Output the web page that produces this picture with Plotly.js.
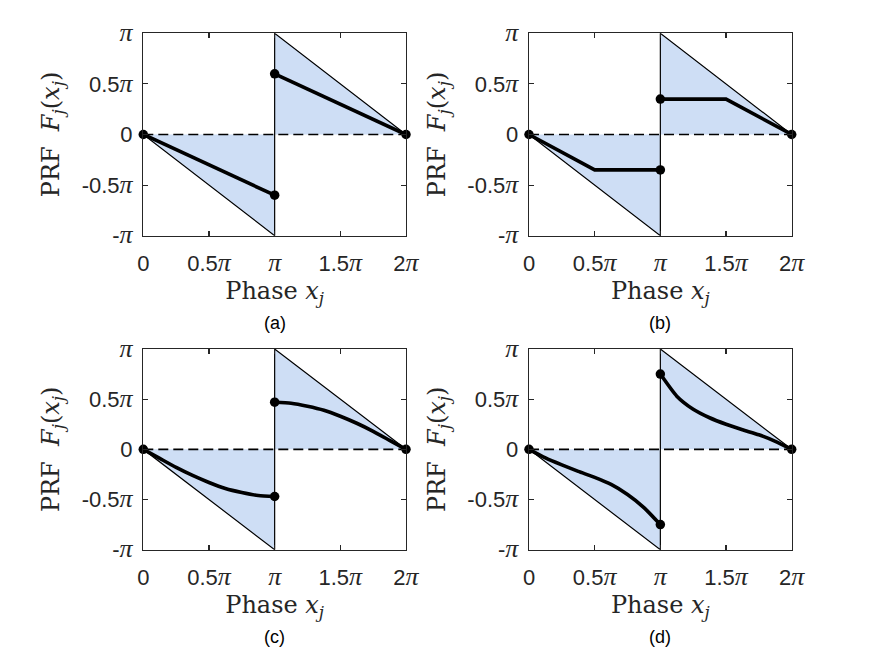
<!DOCTYPE html>
<html>
<head>
<meta charset="utf-8">
<script src="https://cdn.plot.ly/plotly-3.0.1.min.js"></script>
<style>
  html, body { margin: 0; padding: 0; background: #ffffff; }
  #chart { width: 875px; height: 657px; }
</style>
</head>
<body>
<div id="chart"></div>
<script>
// Phase response functions F_j(x_j); x and y are in units of pi.
const tickVals = [0, 0.5, 1, 1.5, 2];
const yTickVals = [-1, -0.5, 0, 0.5, 1];
const panelLabels = ['(a)', '(b)', '(c)', '(d)'];

// Admissible region: lower and upper triangles and their outline
const lowerTriX = [0, 1, 1];
const lowerTriY = [0, 0, -1];
const upperTriX = [1, 1, 2];
const upperTriY = [0, 1, 0];
const boundX = [0, 1, 1, 2];
const boundY = [0, -1, 1, 0];

// (a) linear PRF
const aLowX = [0, 1];
const aLowY = [0, -0.6];
const aUpX = [1, 2];
const aUpY = [0.6, 0];

// (b) clipped linear PRF
const bLowX = [0, 0.5, 1];
const bLowY = [0, -0.35, -0.35];
const bUpX = [1, 1.5, 2];
const bUpY = [0.35, 0.35, 0];

// (c) concave PRF
const cLowX = [0, 0.125, 0.25, 0.375, 0.5, 0.625, 0.75, 0.875, 1];
const cLowY = [0, -0.09, -0.18, -0.26, -0.33, -0.39, -0.43, -0.46, -0.47];
const cUpX = [1, 1.125, 1.25, 1.375, 1.5, 1.625, 1.75, 1.875, 2];
const cUpY = [0.47, 0.46, 0.43, 0.39, 0.33, 0.26, 0.18, 0.09, 0];

// (d) S-shaped PRF
const dLowX = [0, 0.125, 0.25, 0.375, 0.5, 0.625, 0.75, 0.875, 1];
const dLowY = [0, -0.085, -0.155, -0.22, -0.28, -0.35, -0.45, -0.58, -0.75];
const dUpX = [1, 1.125, 1.25, 1.375, 1.5, 1.625, 1.75, 1.875, 2];
const dUpY = [0.75, 0.53, 0.40, 0.315, 0.25, 0.195, 0.145, 0.08, 0];

const panels = [
  {low: [aLowX, aLowY], up: [aUpX, aUpY], shape: 'linear'},
  {low: [bLowX, bLowY], up: [bUpX, bUpY], shape: 'linear'},
  {low: [cLowX, cLowY], up: [cUpX, cUpY], shape: 'spline'},
  {low: [dLowX, dLowY], up: [dUpX, dUpY], shape: 'spline'}
];

const W = 875, H = 657;
// plot boxes in pixels: [left, right, top, bottom]
const boxes = [
  [143.3, 406.0, 33.3, 235.7],
  [529.0, 791.7, 33.3, 235.7],
  [143.3, 406.0, 349.0, 549.7],
  [529.0, 791.7, 349.0, 549.7]
];

const fillColor = 'rgb(206,222,245)';
const axisColor = '#262626';
const sans = 'Liberation Sans, Arial, sans-serif';
const serif = 'DejaVu Serif, serif';

const piSym = "<span style='font-family:Liberation Serif;font-style:italic;font-size:26px'>π</span>";
const xTickText = ['0', '0.5' + piSym, piSym, '1.5' + piSym, '2' + piSym];
const yTickText = ['-' + piSym, '-0.5' + piSym, '0', '0.5' + piSym, piSym];

const traces = [];
const layout = {
  width: W, height: H,
  margin: {l: 0, r: 0, t: 0, b: 0},
  paper_bgcolor: '#ffffff',
  plot_bgcolor: '#ffffff',
  showlegend: false,
  annotations: []
};

panels.forEach((p, i) => {
  const n = i + 1;
  const xa = 'x' + (n === 1 ? '' : n);
  const ya = 'y' + (n === 1 ? '' : n);
  const b = boxes[i];

  // shaded triangles
  traces.push({x: lowerTriX, y: lowerTriY, xaxis: xa, yaxis: ya, mode: 'lines',
    fill: 'toself', fillcolor: fillColor, line: {width: 0}, hoverinfo: 'skip'});
  traces.push({x: upperTriX, y: upperTriY, xaxis: xa, yaxis: ya, mode: 'lines',
    fill: 'toself', fillcolor: fillColor, line: {width: 0}, hoverinfo: 'skip'});
  // triangle outline
  traces.push({x: boundX, y: boundY, xaxis: xa, yaxis: ya, mode: 'lines',
    line: {color: '#000', width: 1.2}, hoverinfo: 'skip'});
  // dashed zero line
  traces.push({x: [tickVals[0], tickVals[4]], y: [0, 0], xaxis: xa, yaxis: ya, mode: 'lines',
    line: {color: '#000', width: 1.7, dash: '10px,5px'}, hoverinfo: 'skip'});
  // PRF branches
  [p.low, p.up].forEach(seg => {
    traces.push({x: seg[0], y: seg[1], xaxis: xa, yaxis: ya, mode: 'lines',
      line: {color: '#000', width: 3.6, shape: p.shape, smoothing: 0.6}, cliponaxis: false});
  });
  // end points of each branch
  const ex = [p.low[0][0], p.low[0][p.low[0].length - 1], p.up[0][0], p.up[0][p.up[0].length - 1]];
  const ey = [p.low[1][0], p.low[1][p.low[1].length - 1], p.up[1][0], p.up[1][p.up[1].length - 1]];
  traces.push({x: ex, y: ey, xaxis: xa, yaxis: ya, mode: 'markers',
    marker: {color: '#000', size: 9.5}, cliponaxis: false});

  const common = {
    showgrid: false, zeroline: false, showline: true, mirror: 'ticks',
    linecolor: axisColor, linewidth: 1.3, ticks: 'inside', ticklen: 5,
    tickcolor: axisColor, tickwidth: 1.1, automargin: false,
    tickfont: {family: sans, size: 22, color: axisColor}, fixedrange: true
  };
  layout['xaxis' + (n === 1 ? '' : n)] = Object.assign({}, common, {
    domain: [b[0] / W, b[1] / W], anchor: ya, range: [0, 2],
    tickmode: 'array', tickvals: tickVals, ticktext: xTickText,
    ticklabelstandoff: 8,
    title: {text: 'Phase <i>x<sub>j</sub></i>', font: {family: serif, size: 24, color: axisColor}, standoff: 0}
  });
  layout['yaxis' + (n === 1 ? '' : n)] = Object.assign({}, common, {
    domain: [1 - b[3] / H, 1 - b[2] / H], anchor: xa, range: [-1, 1],
    tickmode: 'array', tickvals: yTickVals, ticktext: yTickText,
    ticklabelstandoff: 5,
    title: {text: 'PRF&nbsp;&nbsp;<i>F<sub>j</sub></i>(<i>x<sub>j</sub></i>)', font: {family: serif, size: 24, color: axisColor}, standoff: 15}
  });
  layout.annotations.push({
    text: panelLabels[i], xref: 'paper', yref: 'paper',
    x: (b[0] + b[1]) / 2 / W, y: 1 - (b[3] + 87) / H,
    xanchor: 'center', yanchor: 'middle', showarrow: false,
    font: {family: sans, size: 18, color: '#000'}
  });
});

Plotly.newPlot('chart', traces, layout, {staticPlot: true, displayModeBar: false});
</script>
</body>
</html>
